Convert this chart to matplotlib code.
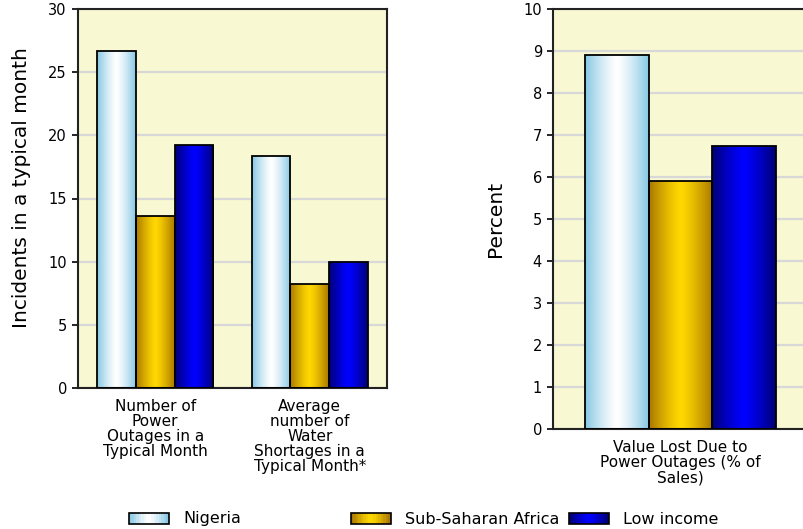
import numpy as np
import matplotlib
matplotlib.use('Agg')
import matplotlib.pyplot as plt
from matplotlib.patches import Rectangle

# data
series = ['Nigeria', 'Sub-Saharan Africa', 'Low income']
left_cats = ['Number of\nPower\nOutages in a\nTypical Month',
             'Average\nnumber of\nWater\nShortages in a\nTypical Month*']
left_vals = {'Nigeria': [26.7, 18.4],
             'Sub-Saharan Africa': [13.6, 8.2],
             'Low income': [19.2, 10.0]}
right_cats = ['Value Lost Due to\nPower Outages (% of\nSales)']
right_vals = {'Nigeria': [8.9],
              'Sub-Saharan Africa': [5.9],
              'Low income': [6.75]}

# (edge colour, centre colour) of the cylinder-like gradient
grad = {'Nigeria': ('#87c8e4', '#ffffff'),
        'Sub-Saharan Africa': ('#aa7800', '#ffd800'),
        'Low income': ('#000075', '#0000ff')}

plt.rcParams['font.family'] = ['DejaVu Sans']
W, H = 804, 529
fig = plt.figure(figsize=(W / 100, H / 100), dpi=100)
BG = '#f8f8d2'


def gradient_img(c_edge, c_mid, n=64):
    a = np.array(matplotlib.colors.to_rgb(c_edge))
    b = np.array(matplotlib.colors.to_rgb(c_mid))
    t = 1 - np.abs(np.linspace(-1, 1, n)) ** 1.3
    return (a[None, :] * (1 - t[:, None]) + b[None, :] * t[:, None])[None, :, :]


def draw_panel(ax, cats, vals, ymax, step, ylabel):
    ax.set_facecolor(BG)
    x = np.arange(len(cats))
    w = 0.25
    for i, s in enumerate(series):
        bars = ax.bar(x + (i - 1) * w, vals[s], w, facecolor='none',
                      edgecolor='black', linewidth=1.3, zorder=3)
        img = gradient_img(*grad[s])
        for b in bars:
            x0, y0 = b.get_x(), b.get_y()
            im = ax.imshow(img, extent=(x0, x0 + b.get_width(), y0, y0 + b.get_height()),
                           aspect='auto', zorder=2, interpolation='bilinear')
            im.set_clip_path(b)
    ax.set_xlim(-0.5, len(cats) - 0.5)
    ax.set_ylim(0, ymax)
    ax.set_yticks(np.arange(0, ymax + step / 2, step))
    ax.yaxis.grid(True, color='#d8d8d8', linewidth=1.6, zorder=0)
    ax.set_axisbelow(True)
    ax.set_xticks(x)
    ax.set_xticklabels(cats, fontsize=11, linespacing=1.0)
    ax.tick_params(axis='x', length=0, pad=8)
    ax.tick_params(axis='y', length=4, width=1.2, labelsize=10.5, pad=4)
    ax.set_ylabel(ylabel, fontsize=14.5)
    for sp in ax.spines.values():
        sp.set_linewidth(1.5)
        sp.set_color('#222222')


def px_axes(l, t, r, b):
    return fig.add_axes([l / W, 1 - b / H, (r - l) / W, (b - t) / H])


ax1 = px_axes(78, 9, 387, 388)
draw_panel(ax1, left_cats, left_vals, 30, 5, 'Incidents in a typical month')
# x is the right edge of the rotated label, in axes fraction
ax1.yaxis.set_label_coords((31 - 78) / (387 - 78), 0.53)

ax2 = px_axes(553, 9, 808, 429)
draw_panel(ax2, right_cats, right_vals, 10, 1, 'Percent')
ax2.yaxis.set_label_coords((505 - 553) / (808 - 553), 0.5)


# legend keys with a little gradient, placed like the reference
class GradHandler:
    def __init__(self, name):
        self.name = name

    def legend_artist(self, legend, orig_handle, fontsize, handlebox):
        x0, y0 = handlebox.xdescent, handlebox.ydescent
        w, h = handlebox.width, handlebox.height
        img = gradient_img(*grad[self.name], n=16)[0]
        n = len(img)
        for k in range(n):
            handlebox.add_artist(Rectangle((x0 + w * k / n, y0), w / n + 0.3, h,
                                           facecolor=img[k], edgecolor='none',
                                           transform=handlebox.get_transform()))
        border = Rectangle((x0, y0), w, h, facecolor='none', edgecolor='black',
                           linewidth=1.2, transform=handlebox.get_transform())
        handlebox.add_artist(border)
        return border


legend_x = {'Nigeria': 129, 'Sub-Saharan Africa': 351, 'Low income': 569}
for s in series:
    h = Rectangle((0, 0), 1, 1)
    fig.legend([h], [s], handler_map={h: GradHandler(s)},
               loc='center left', bbox_to_anchor=(legend_x[s] / W, 1 - 519 / H),
               frameon=False, fontsize=11.5, handlelength=2.5, handleheight=0.65,
               handletextpad=0.9, borderpad=0, borderaxespad=0)

fig.savefig('out.png', dpi=100, facecolor='white')
